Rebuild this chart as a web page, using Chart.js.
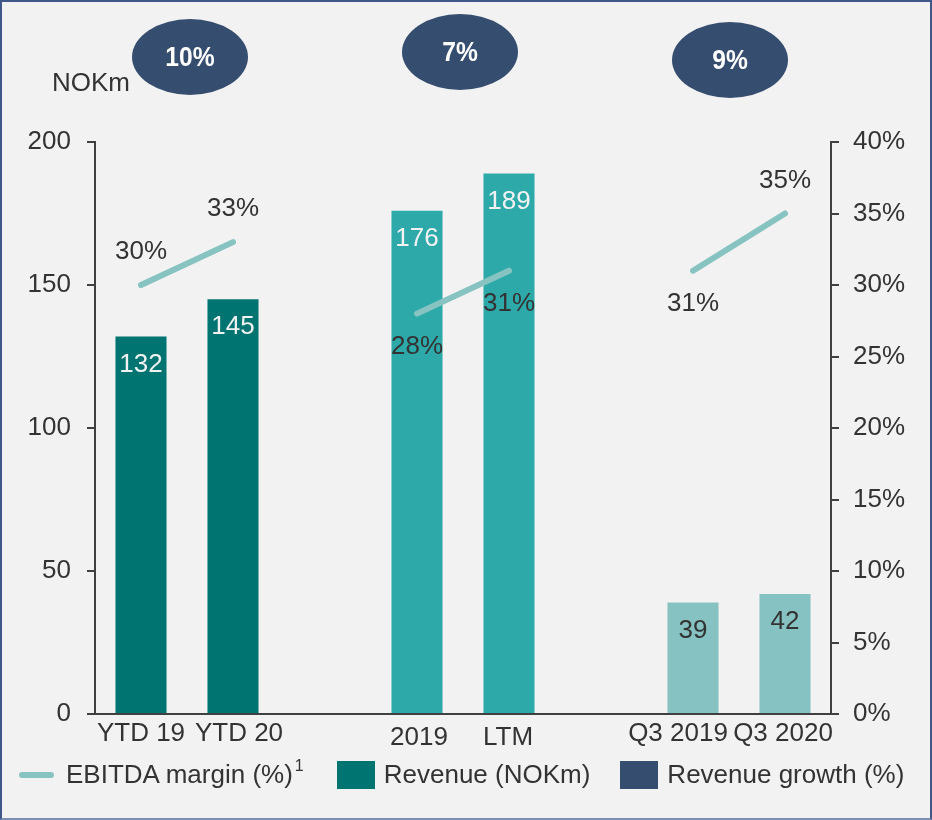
<!DOCTYPE html>
<html lang="en">
<head>
    <meta charset="UTF-8">
    <title>Revenue and EBITDA margin</title>
    <script src="https://cdn.jsdelivr.net/npm/chart.js"></script>
    <style>
        body {
            margin: 0;
            font-family: "Liberation Sans", Arial, sans-serif;
            background-color: #F2F2F2;
        }
        .wrap {
            position: relative;
            width: 932px;
            height: 820px;
            background-color: #F2F2F2;
        }
        .wrap canvas {
            position: absolute;
            left: 0;
            top: 0;
        }
        .frame {
            position: absolute;
            inset: 0;
            border: 2px solid #41578A;
            border-bottom-color: #7C8FB4;
            pointer-events: none;
        }
        .legend {
            position: absolute;
            top: 759px;
            left: 19px;
            display: flex;
            align-items: center;
            font-size: 26px;
            color: #333;
            white-space: nowrap;
        }
        .legend .line {
            width: 35px;
            height: 6px;
            border-radius: 3px;
            background-color: #86C3C1;
            margin-right: 12px;
        }
        .legend .box {
            width: 38px;
            height: 28px;
            margin-right: 9px;
        }
        .legend sup {
            font-size: 16px;
            line-height: 0;
            position: relative;
            top: -9px;
            margin-left: 2px;
        }
        .legend .item {
            display: flex;
            align-items: center;
        }
    </style>
</head>
<body>
    <div class="wrap">
        <canvas id="revChart" width="932" height="820"></canvas>
        <div class="legend">
            <div class="item"><span class="line"></span>EBITDA margin (%)<sup>1</sup></div>
            <div class="item" style="margin-left:33px"><span class="box" style="background:#007470"></span>Revenue (NOKm)</div>
            <div class="item" style="margin-left:30px"><span class="box" style="background:#354D6E"></span>Revenue growth (%)</div>
        </div>
        <div class="frame"></div>
    </div>

    <script>
        // data
        const periods = ['YTD 19', 'YTD 20', '', '2019', 'LTM', '', 'Q3 2019', 'Q3 2020'];
        const revenue = [132, 145, null, 176, 189, null, 39, 42];
        const ebitdaMargin = [30, 33, null, 28, 31, null, 31, 35];
        const revenueGrowth = [10, 7, 9];
        const leftTicks = [0, 50, 100, 150, 200];
        const rightTicks = [0, 5, 10, 15, 20, 25, 30, 35, 40];

        const barColors = ['#007470', '#007470', null, '#2EA9AA', '#2EA9AA', null, '#85C2C1', '#85C2C1'];
        const barTextColors = ['#F2F2F2', '#F2F2F2', null, '#F2F2F2', '#F2F2F2', null, '#333', '#333'];
        // margin label above (-1) or below (+1) the line end
        const marginLabelSide = [-1, -1, 0, 1, 1, 0, 1, -1];
        // category label nudges so neighbouring labels don't collide
        const catLabelDx = [0, 6, 0, 2, -1, 0, -15, -2];
        const catLabelDy = [0, 0, 0, 4, 4, 0, 0, 0];
        // which pair of categories each growth bubble sits over, plus small nudges
        const growthGroups = [[0, 1], [3, 4], [6, 7]];
        const growthDx = [3, -3, -9];
        const growthY = [57, 52, 60];

        const fam = '"Liberation Sans", Arial, sans-serif';
        const txtFont = '26px ' + fam;

        const labelsPlugin = {
            id: 'labels',
            afterDatasetsDraw(chart) {
                const ctx = chart.ctx;
                const x = chart.scales.x;
                const y = chart.scales.y;
                const y2 = chart.scales.y2;
                ctx.save();
                ctx.font = txtFont;
                ctx.textAlign = 'center';
                ctx.textBaseline = 'middle';

                // values inside the bars
                revenue.forEach((v, i) => {
                    if (v == null) return;
                    ctx.fillStyle = barTextColors[i];
                    ctx.fillText(String(v), x.getPixelForValue(i), y.getPixelForValue(v) + 28);
                });

                // margin labels
                ebitdaMargin.forEach((v, i) => {
                    if (v == null) return;
                    ctx.fillStyle = '#333';
                    ctx.fillText(v + '%', x.getPixelForValue(i), y2.getPixelForValue(v) + marginLabelSide[i] * 33);
                });

                // category labels under the axis
                ctx.fillStyle = '#333';
                periods.forEach((p, i) => {
                    if (!p) return;
                    ctx.fillText(p, x.getPixelForValue(i) + catLabelDx[i], x.top + 20 + catLabelDy[i]);
                });

                // unit label
                ctx.textAlign = 'left';
                ctx.fillText('NOKm', 52, 84);

                // growth bubbles
                revenueGrowth.forEach((g, k) => {
                    const [a, b] = growthGroups[k];
                    const cx = (x.getPixelForValue(a) + x.getPixelForValue(b)) / 2 + growthDx[k];
                    const cy = growthY[k];
                    ctx.beginPath();
                    ctx.ellipse(cx, cy, 58, 38, 0, 0, Math.PI * 2);
                    ctx.fillStyle = '#354D6E';
                    ctx.fill();
                    ctx.save();
                    ctx.translate(cx, cy + 1);
                    ctx.scale(0.88, 1);
                    ctx.fillStyle = '#FFFFFF';
                    ctx.textAlign = 'center';
                    ctx.font = 'bold 28px ' + fam;
                    ctx.fillText(g + '%', 0, 0);
                    ctx.restore();
                });
                ctx.restore();
            }
        };

        const axisColor = '#404040';

        new Chart(document.getElementById('revChart').getContext('2d'), {
            data: {
                labels: periods,
                datasets: [
                    {
                        type: 'line',
                        label: 'EBITDA margin (%)',
                        data: ebitdaMargin,
                        yAxisID: 'y2',
                        borderColor: '#86C3C1',
                        borderWidth: 6,
                        borderCapStyle: 'round',
                        pointRadius: 0,
                        spanGaps: false,
                        order: 0
                    },
                    {
                        type: 'bar',
                        label: 'Revenue (NOKm)',
                        data: revenue,
                        yAxisID: 'y',
                        backgroundColor: barColors,
                        barPercentage: 0.555,
                        categoryPercentage: 1,
                        order: 1
                    }
                ]
            },
            options: {
                responsive: false,
                animation: false,
                layout: { padding: { top: 142, left: 0, right: 0, bottom: 0 } },
                plugins: {
                    legend: { display: false },
                    tooltip: { enabled: false }
                },
                scales: {
                    x: {
                        grid: { display: false, drawTicks: false },
                        border: { color: axisColor, width: 2 },
                        ticks: { display: false },
                        afterFit: s => { s.height = 106; }
                    },
                    y: {
                        position: 'left',
                        min: 0,
                        max: 200,
                        afterBuildTicks: s => { s.ticks = leftTicks.map(v => ({ value: v })); },
                        grid: { drawOnChartArea: false, color: axisColor, tickLength: 8, lineWidth: 2 },
                        border: { color: axisColor, width: 2 },
                        ticks: {
                            color: '#333',
                            font: { size: 26, family: fam },
                            padding: 16
                        },
                        afterFit: s => { s.width = 95; }
                    },
                    y2: {
                        position: 'right',
                        min: 0,
                        max: 40,
                        afterBuildTicks: s => { s.ticks = rightTicks.map(v => ({ value: v })); },
                        grid: { drawOnChartArea: false, color: axisColor, tickLength: 8, lineWidth: 2 },
                        border: { color: axisColor, width: 2 },
                        ticks: {
                            color: '#333',
                            font: { size: 26, family: fam },
                            padding: 14,
                            callback: v => v + '%'
                        },
                        afterFit: s => { s.width = 101; }
                    }
                }
            },
            plugins: [labelsPlugin]
        });
    </script>
</body>
</html>
